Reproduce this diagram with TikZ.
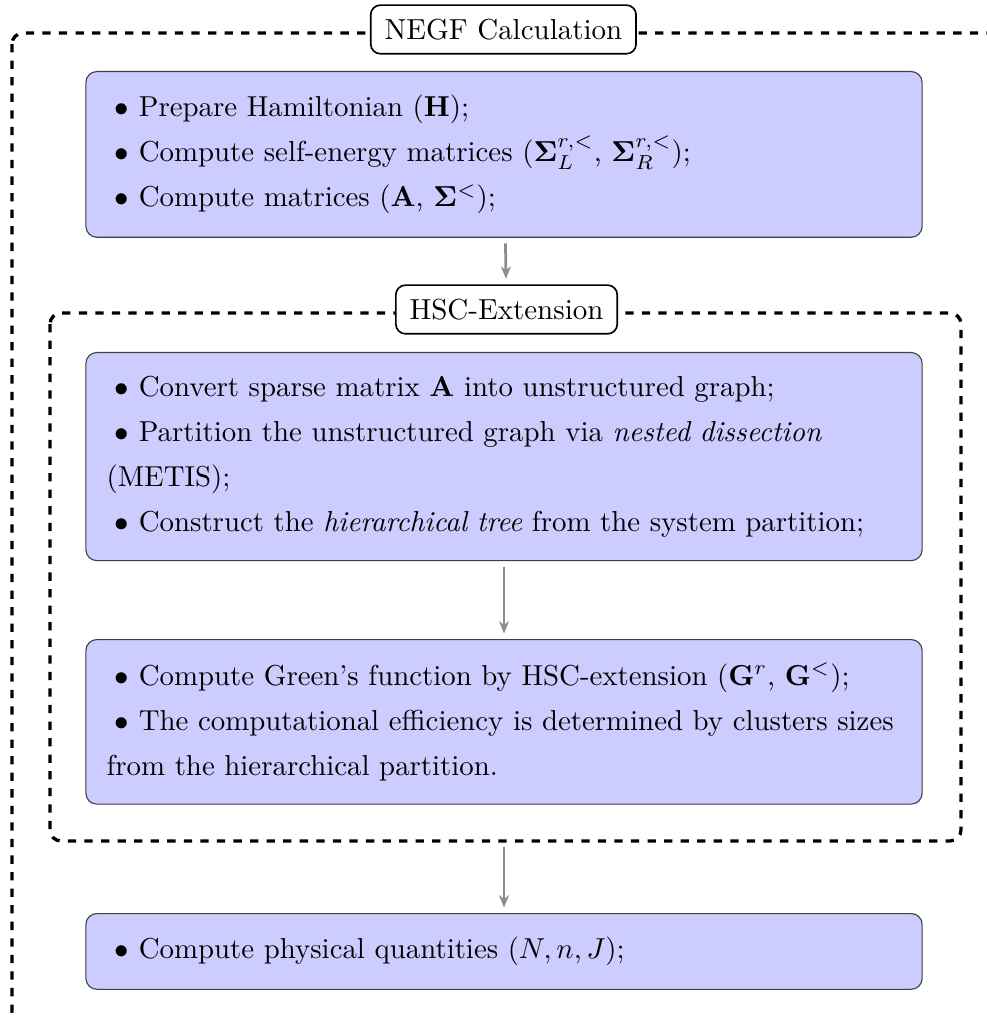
\RequirePackage{fix-cm}
\documentclass[tikz,border=0pt]{standalone}
\usepackage{amsmath}
\usetikzlibrary{arrows.meta}
\tikzstyle{flow}=[shorten >=2pt,shorten <=2pt,-{Stealth[length=4.5pt,width=3.6pt]},draw=black!45,line width=1pt]
\tikzstyle{stepbox}=[rectangle, rounded corners=4pt, draw=black!75, fill=blue!20, inner xsep=7.5pt, inner ysep=8.5pt, text width=288pt, align=left, font=\fontsize{10.45}{16.3}\selectfont]
\tikzstyle{dashframe}=[dashed, very thick, rounded corners=4pt]
\tikzstyle{titletag}=[rectangle, rounded corners=3.5pt, draw, semithick, fill=white, inner sep=5pt, font=\fontsize{10.5}{12.6}\selectfont]
\newcommand{\bul}{\hspace*{3pt}$\bullet$ }

\begin{document}
\begin{tikzpicture}
			\useasboundingbox (0,0) rectangle (12.568,-12.963);

			%The outer frame
			\draw[dashframe] (0.153,-0.420) rectangle (12.73,-13.03);
			\draw (6.41,-0.375) node[titletag] (negf) {NEGF Calculation};

			%The setup step
			\draw (6.418,-0.904) node[stepbox, anchor=north] (prep) {\bul Prepare Hamiltonian ($\mathbf{H}$);\\
				\bul Compute self-energy matrices ($\mathbf{\Sigma}_L^{r,<}$, $\mathbf{\Sigma}_R^{r,<}$);\\
				\bul Compute matrices ($\mathbf{A}$, $\mathbf{\Sigma}^<$);};

			%The inner frame
			\draw[dashframe] (0.637,-3.986) rectangle (12.237,-10.709);
			\draw (6.45,-3.941) node[titletag] (hsc) {HSC-Extension};
			\coordinate (hscbottom) at (6.418,-10.709);

			%The partition step
			\draw (6.418,-4.482) node[stepbox, anchor=north] (part) {\bul Convert sparse matrix $\mathbf{A}$ into unstructured graph;\\
				\bul Partition the unstructured graph via \emph{nested dissection} (METIS);\\
				\bul Construct the \emph{hierarchical tree} from the system partition;};

			%The Green's function step
			\draw (6.418,-8.137) node[stepbox, anchor=north] (green) {\bul Compute Green's function by HSC-extension ($\mathbf{G}^r$, $\mathbf{G}^<$);\\
				\bul The computational efficiency is determined by clusters sizes from the hierarchical partition.};

			%The last step
			\draw (6.418,-11.626) node[stepbox, anchor=north] (phys) {\bul Compute physical quantities $(N, n, J)$;};

			%The arrows
			\draw[flow] (prep) -- (hsc);
			\draw[flow] (part) -- (green);
			\draw[flow] (hscbottom) -- (phys);
\end{tikzpicture}
\end{document}
